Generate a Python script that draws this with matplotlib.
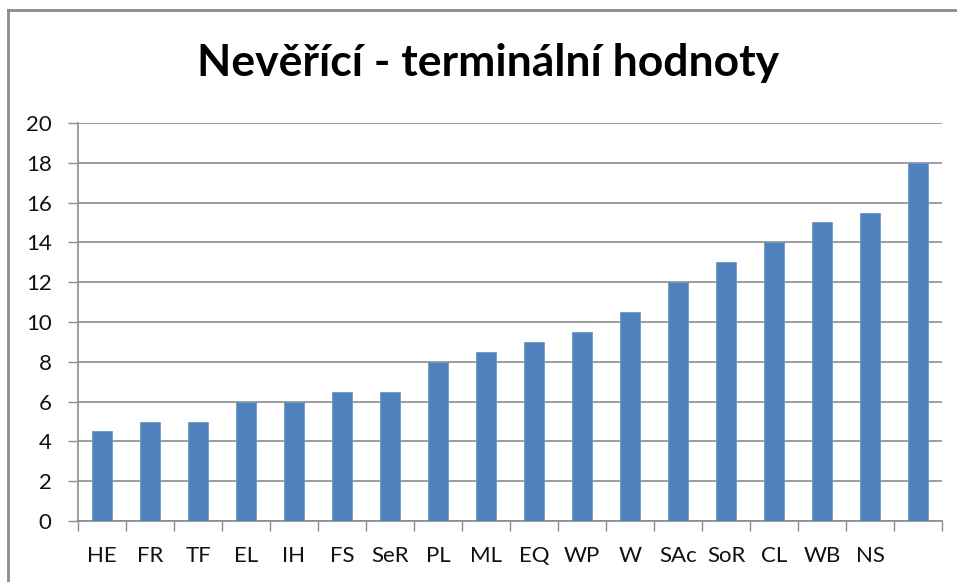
import matplotlib
matplotlib.use("Agg")
import matplotlib.pyplot as plt
from matplotlib.lines import Line2D
import numpy as np

categories = ["HE", "FR", "TF", "EL", "IH", "FS", "SeR", "PL", "ML", "EQ",
              "WP", "W", "SAc", "SoR", "CL", "WB", "NS", ""]
values = [4.5, 5, 5, 6, 6, 6.5, 6.5, 8, 8.5, 9, 9.5, 10.5, 12, 13, 14, 15, 15.5, 18]
yticks = [0, 2, 4, 6, 8, 10, 12, 14, 16, 18, 20]
title = "Nevěřící - terminální hodnoty"

plt.rcParams['font.family'] = ['Lato', 'DejaVu Sans']

W, H = 957, 582
fig = plt.figure(figsize=(W / 100, H / 100), dpi=100)
ax = fig.add_axes([78 / W, 1 - 521 / H, (942 - 78) / W, (521 - 123) / H])

x = np.arange(len(categories))
ax.bar(x, values, width=0.4, color="#4F81BD", edgecolor="#6E97C8", linewidth=0.6, zorder=3)

ax.set_xlim(-0.5, len(categories) - 0.5)
ax.set_ylim(0, 20)
ax.set_yticks(yticks)
ax.set_yticklabels([str(t) for t in yticks])
ax.yaxis.grid(True, color="#8C8C8C", linewidth=1.2, zorder=0)
ax.set_axisbelow(True)

ax.set_xticks(x)
ax.set_xticklabels(categories)
ax.set_xticks(np.arange(-0.5, len(categories)), minor=True)
ax.tick_params(axis='x', which='major', length=0, pad=18, labelsize=16, colors="#111111")
ax.tick_params(axis='x', which='minor', length=7, width=1, color="#8C8C8C", direction='out')
ax.tick_params(axis='y', length=7, width=1, color="#8C8C8C", pad=12, labelsize=16,
               labelcolor="#111111", direction='out')

for s in ["top", "right"]:
    ax.spines[s].set_visible(False)
for s in ["left", "bottom"]:
    ax.spines[s].set_color("#8C8C8C")
    ax.spines[s].set_linewidth(1.2)

fig.text(488 / W, 1 - 76 / H, title, ha="center", va="baseline",
         fontsize=32, fontweight="bold", color="#000000")

# outer chart border (left and top only visible)
fig.add_artist(Line2D([8 / W, 8 / W], [0, 1 - 10 / H], transform=fig.transFigure,
                      color="#8A8A8A", linewidth=2))
fig.add_artist(Line2D([8 / W, 1], [1 - 10 / H, 1 - 10 / H], transform=fig.transFigure,
                      color="#8A8A8A", linewidth=2))

fig.savefig("out.png", dpi=100, facecolor="white")
